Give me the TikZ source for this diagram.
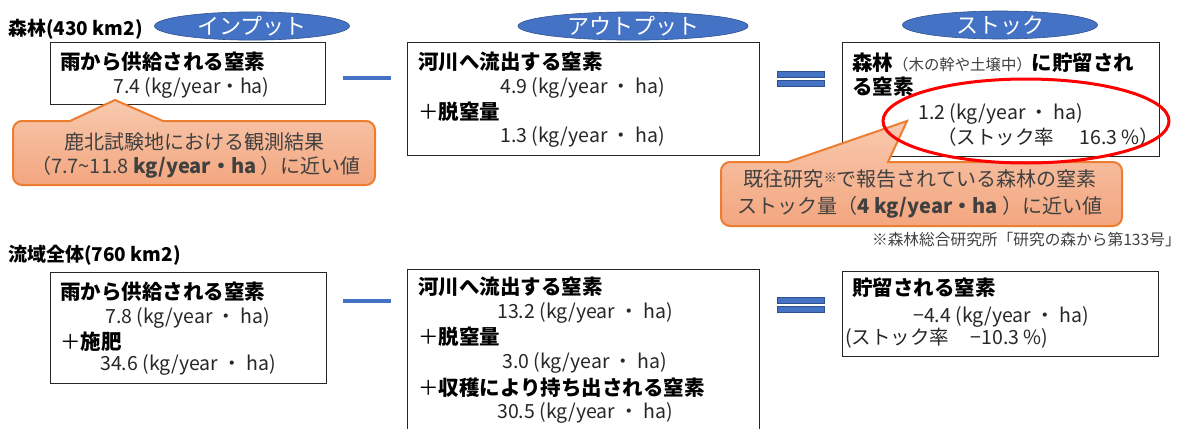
\documentclass[tikz,border=0pt]{standalone}
\usepackage{fontspec}
\setmainfont{Noto Sans CJK JP}
\usetikzlibrary{shapes.geometric}

\definecolor{pillblue}{HTML}{4472C4}
\definecolor{pilledge}{HTML}{2F528F}
\definecolor{noteedge}{HTML}{ED7D31}
\definecolor{notetop}{HTML}{F8C9AE}
\definecolor{notebot}{HTML}{F3A67F}
\definecolor{notetext}{HTML}{404040}
\definecolor{ringred}{HTML}{FF0000}

\newcommand{\txHead}{\fontsize{20.5}{24}\selectfont\bfseries}
\newcommand{\txNum}{\fontsize{19.5}{22}\selectfont}
\newcommand{\txNote}{\fontsize{20}{24}\selectfont}
\newcommand{\txPill}{\fontsize{22}{26}\selectfont}
\newcommand{\txSmall}{\fontsize{15.4}{18}\selectfont}
\newcommand{\txFoot}{\fontsize{15.7}{19}\selectfont}

\begin{document}
\begin{tikzpicture}[x=1pt,y=1pt,
    databox/.style={draw=black!85, line width=1pt, fill=white},
    pill/.style={ellipse, fill=pillblue, draw=pilledge, line width=0.6pt,
      minimum width=195, minimum height=28, text=white, font=\txPill},
    minusbar/.style={fill=pillblue, minimum width=48, minimum height=4},
    eqbar/.style={fill=pillblue, draw=pilledge, line width=0.6pt,
      minimum width=47, minimum height=6},
    notebox/.style={draw=noteedge, line width=2pt, top color=notetop, bottom color=notebot},
    ring/.style={ellipse, draw=ringred, line width=3pt},
    hd/.style={anchor=west, font=\txHead},
    num/.style={anchor=west, font=\txNum, text=black!85},
    note/.style={font=\txNote, text=notetext}]
      \tikzstyle{every node}+=[inner sep=0pt]
      \useasboundingbox (0,0) rectangle (1185,-428);
      % forest row
      \node [hd, font=\fontsize{19}{22}\selectfont\bfseries] (forestLbl) at (8,-29) {森林(430 km2)};
      \node [pill] (inPill) at (252,-26) {インプット};
      \node [pill, minimum width=230] (outPill) at (633,-26) {アウトプット};
      \node [pill] (stockPill) at (1000,-25) {ストック};
      \node [databox, minimum width=275, minimum height=61] (rainF) at (187.5,-73.5) {};
      \node [hd] (rainFa) at (60,-62) {雨から供給される窒素};
      \node [num] (rainFb) at (113,-88) {7.4 (kg/year・ha)};
      \node [minusbar] (minusF) at (367,-78) {};
      \node [databox, minimum width=352, minimum height=112] (outF) at (583,-99) {};
      \node [hd] (outFa) at (418,-62) {河川へ流出する窒素};
      \node [num] (outFb) at (500,-88) {4.9 (kg/year ・ ha)};
      \node [hd] (outFc) at (418,-112) {\mdseries＋\bfseries 脱窒量};
      \node [num] (outFd) at (500,-137) {1.3 (kg/year ・ ha)};
      \node [eqbar] (eqFa) at (800.5,-74.5) {};
      \node [eqbar] (eqFb) at (800.5,-83.5) {};
      \node [databox, minimum width=317, minimum height=113] (stockF) at (1000.5,-99.5) {};
      \node [hd] (stockFa) at (852,-63) {森林{\txSmall\mdseries\color{notetext}（木の幹や土壌中）}に貯留され};
      \node [hd] (stockFb) at (852,-87) {る窒素};
      \node [num] (stockFc) at (918,-114) {1.2 (kg/year ・ ha)};
      \node [num] (stockFd) at (937,-137) {（ストック率\hspace{1.3em}16.3 \%）};
      % notes
      \draw [notebox] (70,-121) -- (115,-100) -- (163,-121) [rounded corners=9] -- (375,-121)
        -- (375,-185) -- (13,-185) -- (13,-121) [sharp corners] -- cycle;
      \node [note] (noteRainA) at (194,-142) {鹿北試験地における観測結果};
      \node [note] (noteRainB) at (196,-167) {（7.7\textasciitilde 11.8 \textbf{kg/year・ha} ）に近い値};
      \draw [notebox] (788,-162) -- (907,-121) -- (888,-162) [rounded corners=9] -- (1122,-162)
        -- (1122,-226) -- (721,-226) -- (721,-162) [sharp corners] -- cycle;
      \node [note] (noteStockA) at (920,-179) {既往研究{\fontsize{13}{15}\selectfont\raisebox{4pt}{※}}で報告されている森林の窒素};
      \node [note] (noteStockB) at (920,-207) {ストック量（\textbf{4 kg/year・ha} ）に近い値};
      \node [ring, minimum width=286, minimum height=84] (stockRing) at (1026,-121) {};
      \node [anchor=east, font=\txFoot, text=notetext] (srcNote) at (1181,-240) {※森林総合研究所「研究の森から第133号」};
      % basin row
      \node [hd, font=\fontsize{19}{22}\selectfont\bfseries] (basinLbl) at (8,-255) {流域全体(760 km2)};
      \node [databox, minimum width=276, minimum height=111] (rainB) at (188,-327.5) {};
      \node [hd] (rainBa) at (60,-292) {雨から供給される窒素};
      \node [num] (rainBb) at (105,-318) {7.8 (kg/year ・ ha)};
      \node [hd] (rainBc) at (60,-342) {\mdseries＋\bfseries 施肥};
      \node [num] (rainBd) at (100,-365) {34.6 (kg/year ・ ha)};
      \node [minusbar] (minusB) at (367,-301) {};
      \node [databox, minimum width=352, minimum height=163] (outB) at (583,-350.5) {};
      \node [hd] (outBa) at (418,-287) {河川へ流出する窒素};
      \node [num] (outBb) at (497,-313) {13.2 (kg/year ・ ha)};
      \node [hd] (outBc) at (418,-337) {\mdseries＋\bfseries 脱窒量};
      \node [num] (outBd) at (502,-363) {3.0 (kg/year ・ ha)};
      \node [hd] (outBe) at (418,-388) {\mdseries＋\bfseries 収穫により持ち出される窒素};
      \node [num] (outBf) at (497,-413) {30.5 (kg/year ・ ha)};
      \node [eqbar] (eqBa) at (800.5,-300.5) {};
      \node [eqbar] (eqBb) at (800.5,-309.5) {};
      \node [databox, minimum width=316, minimum height=85] (stockB) at (1000,-313.5) {};
      \node [hd] (stockBa) at (852,-288) {貯留される窒素};
      \node [num] (stockBb) at (913,-317) {−4.4 (kg/year ・ ha)};
      \node [num] (stockBc) at (845,-338) {(ストック率\hspace{1.1em}−10.3 \%)};
\end{tikzpicture}
\end{document}
